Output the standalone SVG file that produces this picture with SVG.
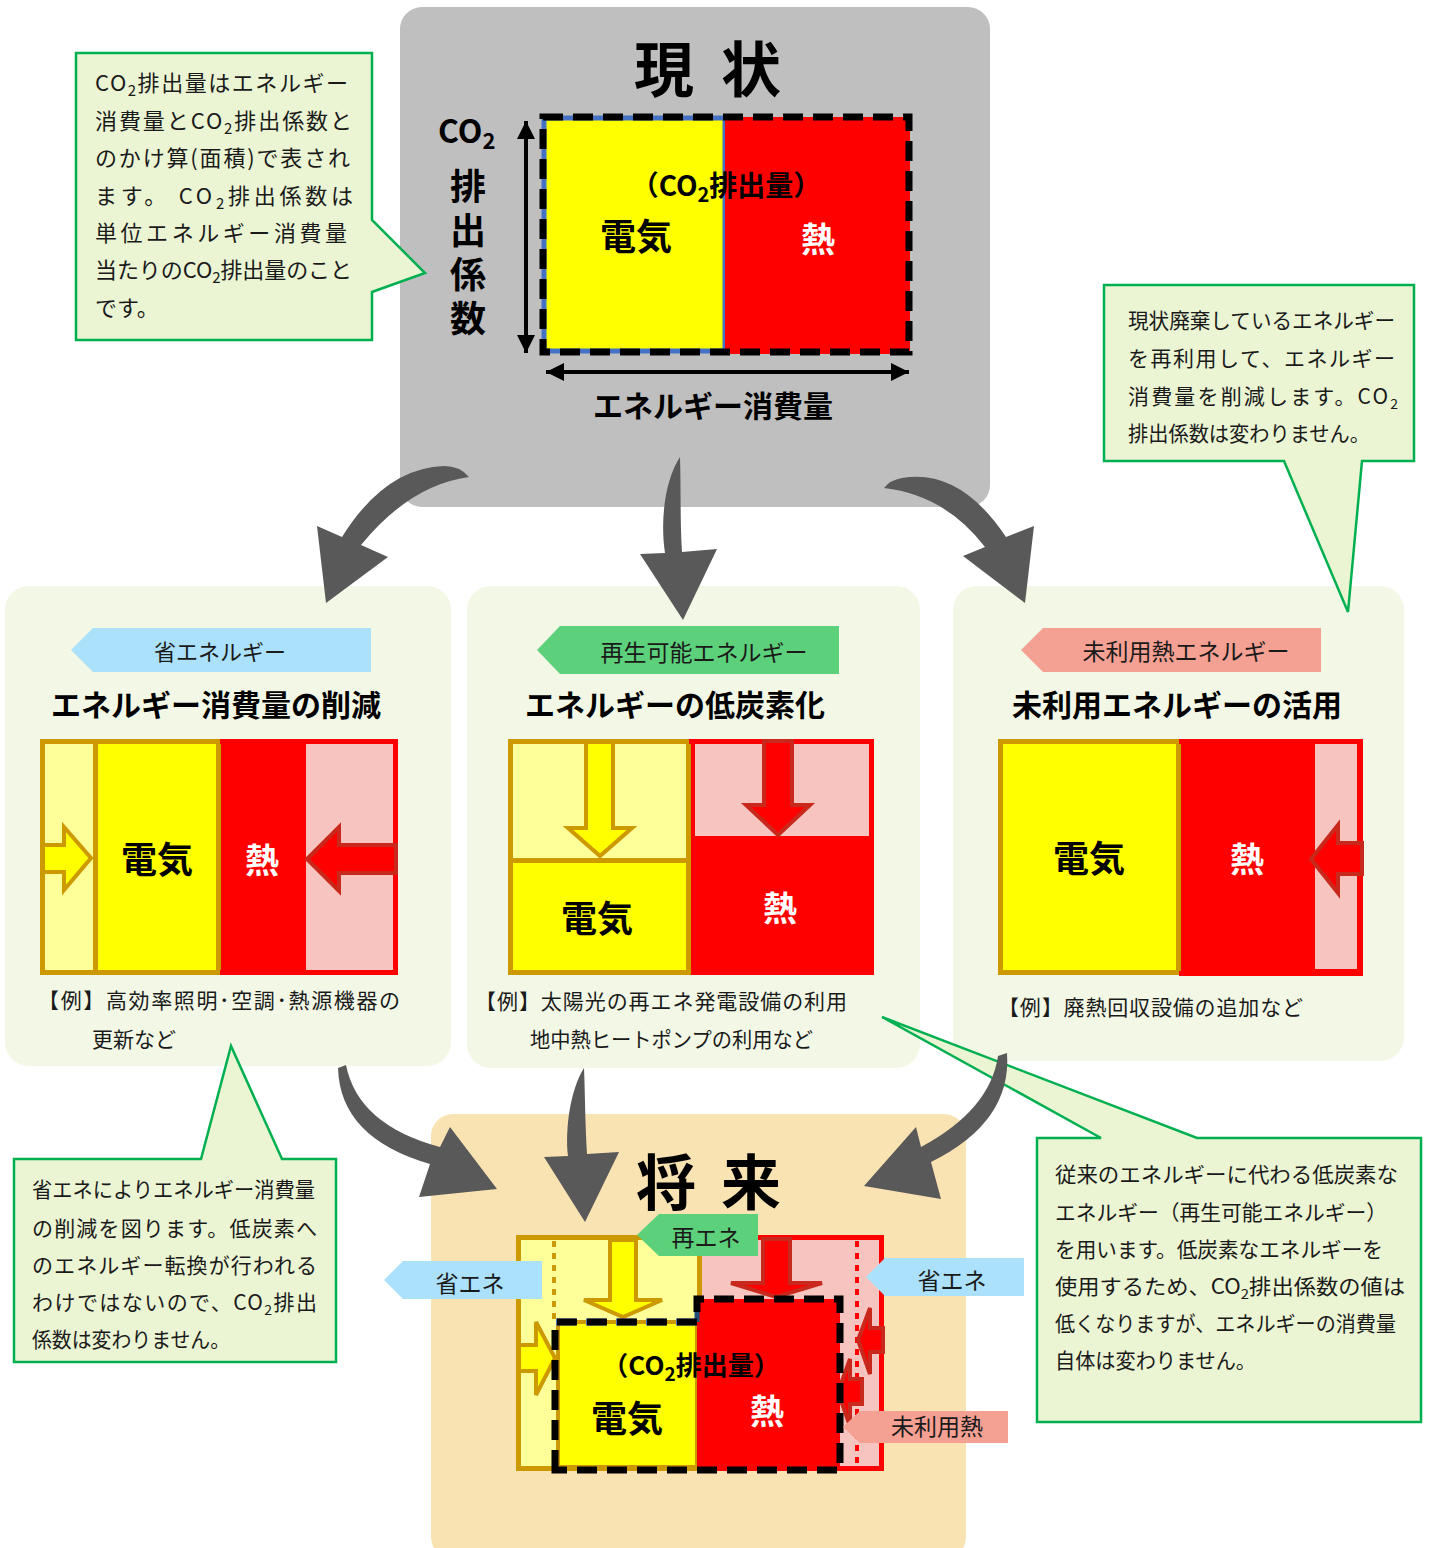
<svg xmlns="http://www.w3.org/2000/svg" width="1429" height="1548" viewBox="0 0 1429 1548">
<defs>
<style>
text{font-family:"Noto Sans CJK JP","Noto Sans",sans-serif;fill:#1a1a1a}
.b{font-weight:700;fill:#000}
.w{font-weight:700;fill:#fff}
.m{text-anchor:middle}
.c21{font-size:21px}
.c22{font-size:22px}
.tag{font-size:23px}
.head{font-size:30px;font-weight:700;fill:#000;text-anchor:middle}
.callout{fill:#ebf5d4;stroke:#00b050;stroke-width:2.5}
.panel{fill:#f3f8e6}
.gold{stroke:#cc9900;stroke-width:5}
.redb{stroke:#ff0000;stroke-width:5}
.ya{fill:#ffff00;stroke:#cc9900;stroke-width:4}
.ra{fill:#ff0000;stroke:#c9281c;stroke-width:4}
.dash{fill:none;stroke:#000;stroke-width:7;stroke-dasharray:20 10}
.arrow{fill:#595959}
</style>
<marker id="ah" viewBox="0 0 10 10" refX="10" refY="5" markerWidth="5" markerHeight="4.5" orient="auto-start-reverse">
<path d="M0,0 L10,5 L0,10 z" fill="#000"/>
</marker>
</defs>

<!-- current state box -->
<g id="genjo">
<rect x="400" y="7" width="590" height="500" rx="22" fill="#bfbfbf"/>
<text class="b m" x="664" y="92" font-size="60">現</text>
<text class="b m" x="751" y="92" font-size="60">状</text>
<rect x="544" y="118" width="181" height="233" fill="#ffff00" stroke="#4472c4" stroke-width="5"/>
<rect x="725" y="117" width="185" height="237" fill="#ff0000"/>
<path class="dash" d="M543,117 H909 V352 H543 Z"/>
<line x1="526" y1="121" x2="526" y2="353" stroke="#000" stroke-width="4" marker-start="url(#ah)" marker-end="url(#ah)"/>
<line x1="546" y1="372" x2="909" y2="372" stroke="#000" stroke-width="4" marker-start="url(#ah)" marker-end="url(#ah)"/>
<text class="b" x="438" y="143" font-size="32">CO<tspan font-size="22" dy="6">2</tspan></text>
<text class="b" x="468" y="168" font-size="36" writing-mode="tb" letter-spacing="8">排出係数</text>
<text class="b m" x="726" y="196" font-size="28">（CO<tspan font-size="20" dy="6">2</tspan><tspan dy="-6">排出量）</tspan></text>
<text class="b m" x="636" y="250" font-size="36">電気</text>
<text class="w m" x="818" y="252" font-size="34">熱</text>
<text class="b m" x="713" y="417" font-size="30">エネルギー消費量</text>
</g>

<!-- callout top-left -->
<g id="note-co2">
<path class="callout" d="M76,53 H372 V220 L425,273 L372,292 V340 H76 Z"/>
<text class="c22" x="95" y="91" textLength="253" lengthAdjust="spacing">CO<tspan font-size="15" dy="5">2</tspan><tspan dy="-5">排出量はエネルギー</tspan></text>
<text class="c22" x="95" y="129" textLength="257" lengthAdjust="spacing">消費量とCO<tspan font-size="15" dy="5">2</tspan><tspan dy="-5">排出係数と</tspan></text>
<text class="c22" x="95" y="166" textLength="255" lengthAdjust="spacing">のかけ算(面積)で表され</text>
<text class="c22" x="95" y="204" textLength="258" lengthAdjust="spacing">ます。 CO<tspan font-size="15" dy="5">2</tspan><tspan dy="-5">排出係数は</tspan></text>
<text class="c22" x="95" y="241" textLength="252" lengthAdjust="spacing">単位エネルギー消費量</text>
<text class="c22" x="95" y="278" textLength="257" lengthAdjust="spacing">当たりのCO<tspan font-size="15" dy="5">2</tspan><tspan dy="-5">排出量のこと</tspan></text>
<text class="c22" x="95" y="316">です。</text>
</g>

<!-- panel 1 -->
<g id="shoene">
<rect class="panel" x="5" y="586" width="446" height="480" rx="24"/>
<path d="M71,650 L93,628 H371 V672 H93 Z" fill="#abe1fa"/>
<text class="m" x="220" y="660" font-size="22">省エネルギー</text>
<text class="head" x="216" y="716">エネルギー消費量の削減</text>
<rect x="42" y="741" width="54" height="231" fill="#ffff99"/>
<rect x="96" y="741" width="123" height="231" fill="#ffff00"/>
<rect x="220" y="741" width="86" height="231" fill="#ff0000"/>
<rect x="306" y="741" width="89" height="231" fill="#f8c4bf"/>
<rect class="gold" x="42.5" y="741.5" width="176" height="231" fill="none"/>
<line class="gold" x1="95.5" y1="741" x2="95.5" y2="972"/>
<path class="redb" d="M220,741.5 H395.5 V972.5 H220" fill="none"/>
<polygon class="ya" points="43,845 64,845 64,827 91,858 64,890 64,872 43,872"/>
<polygon class="ra" points="396,845 339,845 339,827 307,859 339,891 339,873 396,873"/>
<text class="b m" x="157" y="873" font-size="36">電気</text>
<text class="w m" x="262" y="873" font-size="34">熱</text>
<text class="c21" x="38" y="1008" textLength="362" lengthAdjust="spacing">【例】高効率照明･空調･熱源機器の</text>
<text class="c21" x="92" y="1047">更新など</text>
</g>

<!-- panel 2 -->
<g id="saiene">
<rect class="panel" x="467" y="586" width="453" height="482" rx="24"/>
<path d="M537,650 L560,626 H839 V674 H560 Z" fill="#5dd07b"/>
<text class="m tag" x="704" y="661">再生可能エネルギー</text>
<text class="head" x="675" y="716">エネルギーの低炭素化</text>
<rect x="510" y="741" width="179" height="119" fill="#ffff99"/>
<rect x="510" y="860" width="179" height="113" fill="#ffff00"/>
<rect x="689" y="741" width="185" height="234" fill="#ff0000"/>
<rect x="695" y="744" width="174" height="92" fill="#f8c4bf"/>
<rect class="gold" x="510.5" y="741.5" width="178" height="231" fill="none"/>
<line class="gold" x1="510" y1="860.5" x2="689" y2="860.5"/>
<path class="redb" d="M689,741.5 H871.5 V975" fill="none"/>
<polygon class="ya" points="586,742 613,742 613,828 632,828 600,856 568,828 586,828"/>
<polygon class="ra" points="764,741 792,741 792,805 810,805 778,835 746,805 764,805"/>
<text class="b m" x="597" y="932" font-size="36">電気</text>
<text class="w m" x="780" y="921" font-size="34">熱</text>
<text class="c21" x="475" y="1009" textLength="372" lengthAdjust="spacing">【例】太陽光の再エネ発電設備の利用</text>
<text class="c21" x="530" y="1047" textLength="283" lengthAdjust="spacingAndGlyphs">地中熱ヒートポンプの利用など</text>
</g>

<!-- panel 3 -->
<g id="miriyo">
<rect class="panel" x="953" y="586" width="451" height="475" rx="24"/>
<path d="M1021,650 L1043,628 H1321 V672 H1043 Z" fill="#f4a093"/>
<text class="m tag" x="1186" y="660">未利用熱エネルギー</text>
<text class="head" x="1177" y="716">未利用エネルギーの活用</text>
<rect x="1000" y="741" width="179" height="231" fill="#ffff00"/>
<rect x="1179" y="739" width="184" height="237" fill="#ff0000"/>
<rect x="1315" y="744" width="42" height="225" fill="#f8c4bf"/>
<rect class="gold" x="1000.5" y="741.5" width="178" height="231" fill="none"/>
<path class="redb" d="M1179,741.5 H1360.5 V973.5 H1179" fill="none"/>
<polygon class="ra" points="1362,843 1338,843 1338,825 1311,859 1338,893 1338,874 1362,874"/>
<text class="b m" x="1089" y="872" font-size="36">電気</text>
<text class="w m" x="1247" y="872" font-size="34">熱</text>
<text class="c21" x="998" y="1015" textLength="305" lengthAdjust="spacing">【例】廃熱回収設備の追加など</text>
</g>

<!-- callout top-right -->
<g id="note-miriyo">
<path class="callout" d="M1104,285 H1414 V461 H1362 L1348,612 L1284,461 H1104 Z"/>
<text class="c21" x="1128" y="328" textLength="267" lengthAdjust="spacingAndGlyphs">現状廃棄しているエネルギー</text>
<text class="c21" x="1128" y="366" textLength="267" lengthAdjust="spacing">を再利用して、エネルギー</text>
<text class="c21" x="1128" y="404" textLength="270" lengthAdjust="spacing">消費量を削減します。CO<tspan font-size="14" dy="5">2</tspan></text>
<text class="c21" x="1128" y="441" textLength="242" lengthAdjust="spacingAndGlyphs">排出係数は変わりません。</text>
</g>

<!-- future box -->
<g id="shorai">
<rect x="431" y="1114" width="535" height="445" rx="22" fill="#fae3b3"/>
<text class="b m" x="666" y="1205" font-size="60">将</text>
<text class="b m" x="751" y="1205" font-size="60">来</text>
<rect x="518" y="1237" width="181" height="232" fill="#ffff99"/>
<rect x="699" y="1237" width="182" height="232" fill="#f8c4bf"/>
<rect class="gold" x="518.5" y="1237.5" width="181" height="231" fill="none"/>
<path class="redb" d="M700,1237.5 H881.5 V1468.5 H700" fill="none"/>
<line x1="554" y1="1241" x2="554" y2="1322" stroke="#cc9900" stroke-width="4" stroke-dasharray="6 6"/>
<line x1="857" y1="1241" x2="857" y2="1467" stroke="#ff0000" stroke-width="4" stroke-dasharray="6 6"/>
<polygon class="ya" points="610,1240 636,1240 636,1300 662,1300 623,1317 584,1300 610,1300"/>
<polygon class="ra" points="763,1239 790,1239 790,1283 822,1283 776,1297 731,1283 763,1283"/>
<polygon class="ra" points="883,1328 870,1328 870,1308 858,1340 870,1374 870,1352 883,1352"/>
<polygon class="ra" points="862,1379 850,1379 850,1359 838,1392 850,1426 850,1404 862,1404"/>
<polygon class="ya" points="519,1345 536,1345 536,1322 555,1358 536,1395 536,1371 519,1371"/>
<rect x="558" y="1322" width="139" height="145" fill="#ffff00" stroke="#cc9900" stroke-width="4"/>
<rect x="697" y="1299" width="143" height="168" fill="#ff0000"/>
<line x1="556" y1="1322" x2="697" y2="1322" stroke="#4472c4" stroke-width="7" stroke-dasharray="20 10"/>
<line x1="697" y1="1299" x2="697" y2="1322" stroke="#1f4e79" stroke-width="5"/>
<path class="dash" d="M555,1470 V1322 H697 V1299 H840 V1470 Z"/>
<text class="b m" x="691" y="1375" font-size="26">（CO<tspan font-size="19" dy="6">2</tspan><tspan dy="-6">排出量）</tspan></text>
<text class="b m" x="627" y="1432" font-size="36">電気</text>
<text class="w m" x="767" y="1424" font-size="34">熱</text>
<path d="M637,1235 L659,1214 H758 V1256 H659 Z" fill="#5dd07b"/>
<text class="m tag" x="706" y="1246">再エネ</text>
<path d="M384,1280 L403,1261 H542 V1299 H403 Z" fill="#abe1fa"/>
<text class="m tag" x="470" y="1292">省エネ</text>
<path d="M866,1277 L885,1258 H1024 V1296 H885 Z" fill="#abe1fa"/>
<text class="m tag" x="952" y="1289">省エネ</text>
<path d="M843,1427 L860,1411 H1008 V1443 H860 Z" fill="#f4a093"/>
<text class="m tag" x="937" y="1435">未利用熱</text>
</g>

<!-- callout bottom-left -->
<g id="note-shoene">
<path class="callout" d="M14,1159 H201 L231,1046 L282,1159 H336 V1362 H14 Z"/>
<text class="c21" x="32" y="1197" textLength="283" lengthAdjust="spacingAndGlyphs">省エネによりエネルギー消費量</text>
<text class="c21" x="32" y="1236" textLength="285" lengthAdjust="spacing">の削減を図ります。低炭素へ</text>
<text class="c21" x="32" y="1273" textLength="285" lengthAdjust="spacing">のエネルギー転換が行われる</text>
<text class="c21" x="32" y="1310" textLength="285" lengthAdjust="spacing">わけではないので、CO<tspan font-size="14" dy="5">2</tspan><tspan dy="-5">排出</tspan></text>
<text class="c21" x="32" y="1347" textLength="198" lengthAdjust="spacingAndGlyphs">係数は変わりません。</text>
</g>

<!-- callout bottom-right -->
<g id="note-saiene">
<path class="callout" d="M1037,1138 H1101 L882,1017 L1197,1138 H1421 V1422 H1037 Z"/>
<text class="c21" x="1055" y="1182" textLength="343" lengthAdjust="spacingAndGlyphs">従来のエネルギーに代わる低炭素な</text>
<text class="c21" x="1055" y="1220" textLength="332" lengthAdjust="spacingAndGlyphs">エネルギー（再生可能エネルギー）</text>
<text class="c21" x="1055" y="1257" textLength="328" lengthAdjust="spacingAndGlyphs">を用います。低炭素なエネルギーを</text>
<text class="c21" x="1055" y="1294" textLength="350" lengthAdjust="spacingAndGlyphs">使用するため、CO<tspan font-size="14" dy="5">2</tspan><tspan dy="-5">排出係数の値は</tspan></text>
<text class="c21" x="1055" y="1331" textLength="341" lengthAdjust="spacingAndGlyphs">低くなりますが、エネルギーの消費量</text>
<text class="c21" x="1055" y="1368" textLength="201" lengthAdjust="spacingAndGlyphs">自体は変わりません。</text>
</g>

<!-- connectors -->
<g id="connectors">
<path class="arrow" d="M469,477 Q410,485 361,545 L388,557 L326,603 L317,526 L342,537 Q385,468 444,466 Q460,466 469,477 Z"/>
<path class="arrow" d="M680,457 C665,480 660,520 665,553 L640,554 L683,620 L717,549 L682,552 C680,520 681,490 680,457 Z"/>
<path class="arrow" d="M884,488 Q945,495 985,547 L963,556 L1025,603 L1034,526 L1006,537 Q960,468 902,478 Q890,480 884,488 Z"/>
<path class="arrow" d="M346,1065 Q358,1125 440,1147 L450,1127 L497,1189 L419,1197 L430,1164 Q340,1138 338,1068 Z"/>
<path class="arrow" d="M584,1068 C570,1090 565,1130 568,1156 L544,1157 L585,1222 L619,1152 L587,1154 C585,1120 585,1090 584,1068 Z"/>
<path class="arrow" d="M1007,1053 Q1012,1122 931,1162 L941,1199 L864,1186 L916,1127 L921,1147 Q990,1110 998,1056 Z"/>
</g>
</svg>
